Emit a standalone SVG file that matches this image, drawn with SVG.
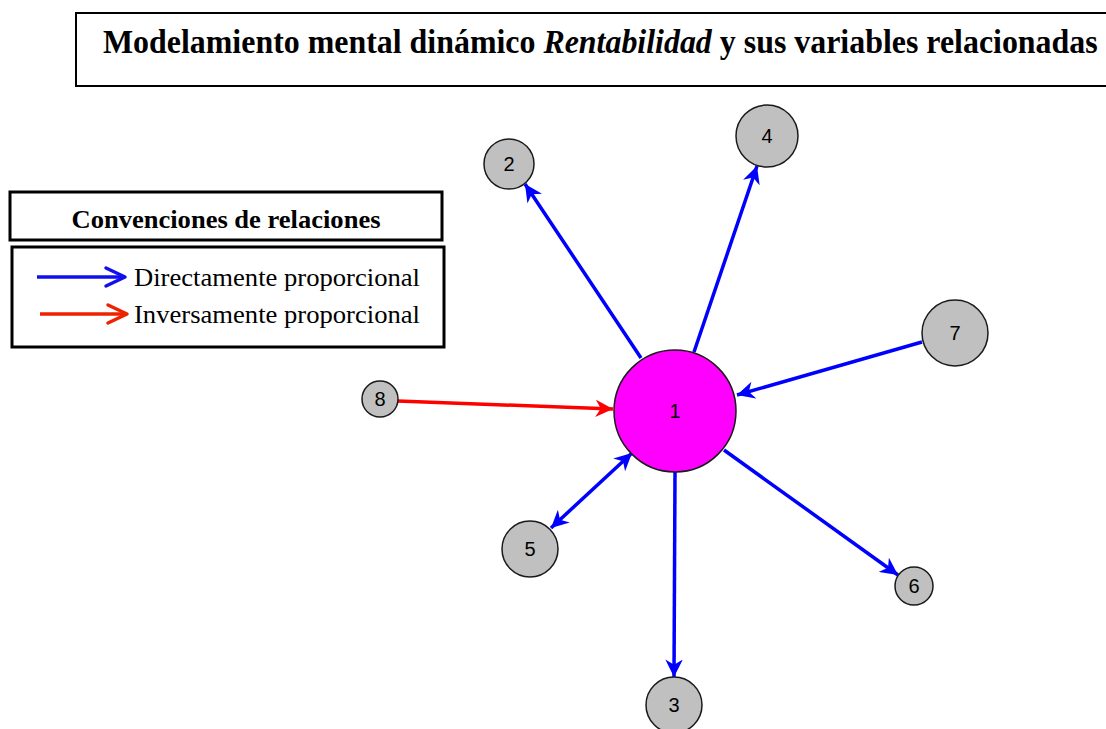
<svg xmlns="http://www.w3.org/2000/svg" width="1106" height="729" viewBox="0 0 1106 729">
<style>
.node{fill:#c0c0c0;stroke:#1a1a1a;stroke-width:1.5}
.lbl{font-family:"Liberation Sans",Arial,sans-serif;font-size:20px;fill:#000;text-anchor:middle;dominant-baseline:central}
.e{stroke:#0000ff;stroke-width:3.5;fill:none}
.er{stroke:#ff0000;stroke-width:3.5;fill:none}
.box{fill:#fff;stroke:#000;stroke-width:3}
.serif{font-family:"Liberation Serif","Times New Roman",serif;fill:#000}
</style>
<defs>
<marker id="ab" viewBox="0 0 10 10" refX="10" refY="5" markerWidth="5" markerHeight="5" orient="auto" markerUnits="strokeWidth"><path d="M0,0 L10,5 L0,10 L3,5 z" fill="#0000ff"/></marker>
<marker id="abs" viewBox="0 0 10 10" refX="10" refY="5" markerWidth="5" markerHeight="5" orient="auto-start-reverse" markerUnits="strokeWidth"><path d="M0,0 L10,5 L0,10 L3,5 z" fill="#0000ff"/></marker>
<marker id="ar" viewBox="0 0 10 10" refX="10" refY="5" markerWidth="5" markerHeight="5" orient="auto" markerUnits="strokeWidth"><path d="M0,0 L10,5 L0,10 L3,5 z" fill="#ff0000"/></marker>
</defs>
<rect width="1106" height="729" fill="#fff"/>
<g id="title">
<rect x="76" y="13" width="1040" height="73" fill="#fff" stroke="#000" stroke-width="2"/>
<text class="serif" transform="translate(103,53) scale(0.967,1)" x="0" y="0" font-size="33" font-weight="bold">Modelamiento mental dinámico <tspan font-style="italic">Rentabilidad</tspan> y sus variables relacionadas</text>
</g>
<g id="legend">
<rect class="box" x="10" y="192" width="432" height="48"/>
<text class="serif" x="226" y="228" font-size="26" font-weight="bold" text-anchor="middle" textLength="309" lengthAdjust="spacingAndGlyphs">Convenciones de relaciones</text>
<rect class="box" x="12" y="247" width="432" height="100"/>
<line x1="37" y1="277" x2="125" y2="277" stroke="#1010ee" stroke-width="3.5"/>
<path d="M106,268 L125,277 L106,286" fill="none" stroke="#1010ee" stroke-width="3.5" stroke-linecap="round" stroke-linejoin="round"/>
<text class="serif" x="134" y="286" font-size="26" textLength="286" lengthAdjust="spacingAndGlyphs">Directamente proporcional</text>
<line x1="40" y1="314" x2="127" y2="314" stroke="#ee2200" stroke-width="3.5"/>
<path d="M108,305 L127,314 L108,323" fill="none" stroke="#ee2200" stroke-width="3.5" stroke-linecap="round" stroke-linejoin="round"/>
<text class="serif" x="134" y="323" font-size="26" textLength="286" lengthAdjust="spacingAndGlyphs">Inversamente proporcional</text>
</g>
<g id="connectors">
<line class="e" x1="641" y1="358" x2="525" y2="184" marker-end="url(#ab)"/>
<line class="e" x1="694" y1="352" x2="757" y2="166" marker-end="url(#ab)"/>
<line class="e" x1="922" y1="342" x2="737" y2="395" marker-end="url(#ab)"/>
<line class="er" x1="398" y1="401" x2="613" y2="409" marker-end="url(#ar)"/>
<line class="e" x1="632" y1="453" x2="551" y2="528" marker-start="url(#abs)" marker-end="url(#ab)"/>
<line class="e" x1="724" y1="450" x2="898" y2="575" marker-end="url(#ab)"/>
<line class="e" x1="675" y1="472" x2="674" y2="677" marker-end="url(#ab)"/>
</g>
<g id="n1"><circle cx="675" cy="411" r="61" fill="#ff00ff" stroke="#1a1a1a" stroke-width="1.5"/><text class="lbl" x="675" y="411">1</text></g>
<g id="n2"><circle class="node" cx="509" cy="164" r="25"/><text class="lbl" x="509" y="164">2</text></g>
<g id="n3"><circle class="node" cx="674" cy="705" r="28"/><text class="lbl" x="674" y="705">3</text></g>
<g id="n4"><circle class="node" cx="767" cy="136" r="31"/><text class="lbl" x="767" y="136">4</text></g>
<g id="n5"><circle class="node" cx="530" cy="549" r="28"/><text class="lbl" x="530" y="549">5</text></g>
<g id="n6"><circle class="node" cx="914" cy="586" r="19"/><text class="lbl" x="914" y="586">6</text></g>
<g id="n7"><circle class="node" cx="955" cy="333" r="33"/><text class="lbl" x="955" y="333">7</text></g>
<g id="n8"><circle class="node" cx="380" cy="399" r="18"/><text class="lbl" x="380" y="399">8</text></g>
</svg>
